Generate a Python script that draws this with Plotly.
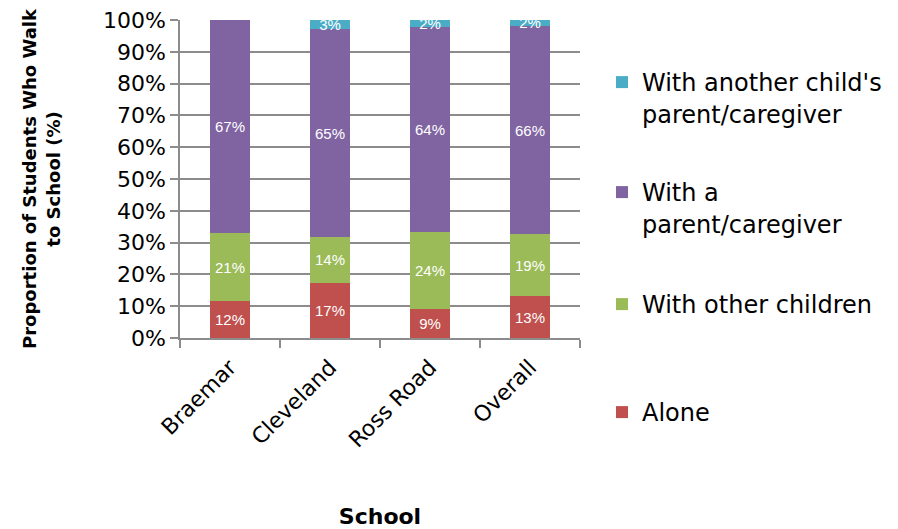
import plotly.graph_objects as go

schools = ["Braemar", "Cleveland", "Ross Road", "Overall"]
alone = [11.6, 17.4, 9.0, 13.2]
other_children = [21.3, 14.4, 24.4, 19.4]
with_parent = [67.1, 65.3, 64.3, 65.6]
another_parent = [None, 2.9, 2.3, 1.8]

series = [
    ("Alone<br> ", alone, "#C0504D", "legend4"),
    ("With other children<br> ", other_children, "#9BBB59", "legend3"),
    ("With a<br>parent/caregiver", with_parent, "#8064A2", "legend2"),
    ("With another child's<br>parent/caregiver", another_parent, "#4BACC6", "legend"),
]

fig = go.Figure()
for name, vals, color, lg in series:
    fig.add_trace(go.Bar(
        x=schools, y=vals, name=name, marker=dict(color=color, line=dict(width=0)),
        width=0.4, texttemplate="%{y:.0f}%", textposition="inside",
        insidetextanchor="middle", constraintext="none",
        textfont=dict(family="Liberation Sans", size=15, color="white"),
        legend=lg,
    ))

H = 529.0
W = 898.0

def cy(p):
    return 1 - p / H

legfont = dict(family="DejaVu Sans", size=24, color="#000000")
common = dict(xref="container", yref="container", x=602 / W, xanchor="left", yanchor="top",
              font=legfont, valign="top", bgcolor="rgba(0,0,0,0)")

fig.update_layout(
    width=898, height=529,
    margin=dict(l=180, r=318, t=20, b=191),
    barmode="stack",
    plot_bgcolor="white", paper_bgcolor="white",
    uniformtext=dict(minsize=15, mode="show"),
    showlegend=True,
    legend=dict(y=cy(60), **common),
    legend2=dict(y=cy(170), **common),
    legend3=dict(y=cy(282), **common),
    legend4=dict(y=cy(390), **common),
    xaxis=dict(
        automargin=False,
        tickangle=-45, tickfont=dict(family="DejaVu Sans", size=22, color="#000000"),
        ticklabelstandoff=6,
        showline=True, linecolor="#8c8c8c", linewidth=1.5,
        ticks="outside", ticklen=8, tickcolor="#8c8c8c", tickwidth=1.5,
        tickson="boundaries", showgrid=False,
        title=dict(text="<b>School</b>", font=dict(family="DejaVu Sans", size=22, color="#000000"), standoff=58),
    ),
    yaxis=dict(
        automargin=False,
        range=[0, 100], dtick=10, ticksuffix="%",
        tickfont=dict(family="DejaVu Sans", size=22, color="#000000"),
        showline=True, linecolor="#8c8c8c", linewidth=1.5,
        ticks="outside", ticklen=8, tickcolor="#8c8c8c", tickwidth=1.5,
        showgrid=True, gridcolor="#8c8c8c", gridwidth=1.5,
        zeroline=False,
        title=dict(text="<b>Proportion of Students Who Walk<br>to School (%)</b>",
                   font=dict(family="DejaVu Sans", size=18, color="#000000"), standoff=38),
    ),
)

fig.write_html("out.html", config={"displayModeBar": False},
               post_script="document.body.style.margin='0';")
